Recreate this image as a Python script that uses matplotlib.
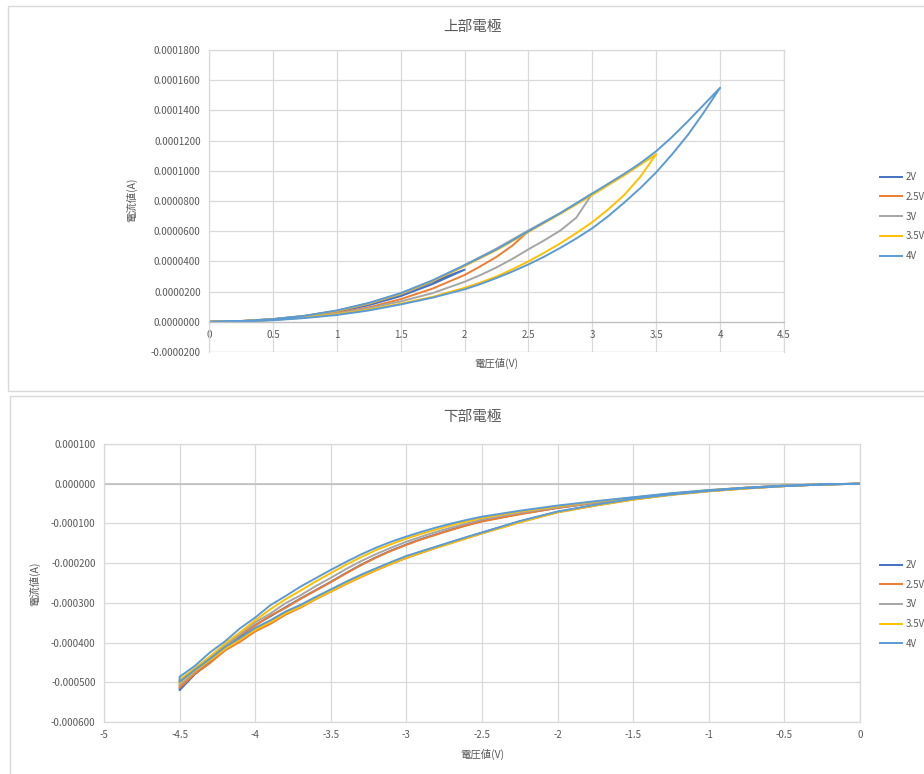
import matplotlib.pyplot as plt
from matplotlib.patches import Rectangle
from matplotlib.lines import Line2D

# ========================================
# Fonts / colours
# ========================================

plt.rcParams['font.family'] = ['Noto Sans CJK JP', 'DejaVu Sans']

TEXT_COLOR = "#595959"
GRID_COLOR = "#D9D9D9"
AXIS_COLOR = "#BFBFBF"

LABELS = ["2V", "2.5V", "3V", "3.5V", "4V"]
COLORS = ["#4472C4", "#ED7D31", "#A5A5A5", "#FFC000", "#5B9BD5"]

# ========================================
# Data: upper electrode (current in uA)
# ========================================

top_v = [0, 0.25, 0.5, 0.75, 1.0, 1.25, 1.5, 1.75, 2.0, 2.125, 2.25, 2.375, 2.5,
         2.625, 2.75, 2.875, 3.0, 3.125, 3.25, 3.375, 3.5, 3.625, 3.75, 3.875, 4.0]

top_rise_2v = [0, 0.3, 1.5, 3.5, 6.5, 11, 17, 25, 34.5]
top_fall_2v = [0, 0.5, 1.7, 3.8, 7.2, 12, 18.5, 26.5, 34.5]
top_rise_25v = [0, 0.3, 1.3, 3.0, 5.8, 9.5, 15, 22, 31, 36.8, 43, 50.5, 60]
top_fall_25v = [0, 0.5, 1.7, 3.8, 7.0, 12, 18.5, 27, 37, 42.5, 48, 54, 60]
top_rise_3v = [0, 0.3, 1.3, 3.0, 5.5, 9.0, 13.5, 19, 26.5, 31, 36, 41.7, 48,
               54, 60.5, 69, 85]
top_fall_3v = [0, 0.5, 1.7, 3.9, 7.2, 12, 18.5, 27, 37.5, 43, 48.5, 54.5, 60.5,
               66.3, 72, 78.5, 85]
top_rise_35v = [0, 0.3, 1.2, 2.8, 5.0, 8.0, 12, 16.5, 22.5, 26, 30, 34.8, 40,
                45.8, 52, 58.8, 66, 74.5, 84, 96, 111]
top_fall_35v = [0, 0.5, 1.7, 3.9, 7.3, 12.2, 18.6, 27, 37, 42.2, 47.5, 53.5, 59.5,
                65.5, 71.5, 77.8, 84, 90.5, 97, 104, 111]
top_rise_4v = [0, 0.2, 1.0, 2.5, 4.5, 7.5, 11.5, 16, 21.5, 25, 29, 33.3, 38,
               43.2, 49, 55.2, 62, 70, 79, 88.5, 99, 111, 124, 139, 155]
top_fall_4v = [0, 0.5, 1.8, 4.0, 7.5, 12.5, 19, 27.5, 37.5, 42.7, 48, 54, 60,
               66, 72, 78.5, 85, 91.5, 98, 105, 113, 122.5, 133, 144, 155]

# ========================================
# Data: lower electrode (current in uA)
# ========================================

bot_v = [0, -0.25, -0.5, -0.75, -1.0, -1.25, -1.5, -1.75, -2.0, -2.25, -2.5,
         -2.6, -2.7, -2.8, -2.9, -3.0, -3.1, -3.2, -3.3, -3.4, -3.5,
         -3.6, -3.7, -3.8, -3.9, -4.0, -4.1, -4.2, -4.3, -4.4, -4.5]

bot_upper_2v = [0, -1.5, -5, -10, -17, -26, -36, -48, -61, -76, -94,
                -104, -115, -127, -139, -153, -168, -185, -204, -225, -247,
                -268, -289, -311, -334, -356, -385, -414, -448, -479, -514]
bot_lower_2v = [0, -2, -6, -11, -18, -27, -39, -54, -71, -95, -123,
                -135, -147, -159, -171, -184, -199, -215, -232, -250, -269,
                -288, -308, -327, -349, -368, -394, -418, -450, -480, -520]
bot_upper_25v = [0, -1.5, -5, -10, -17, -26, -36, -48, -61, -77, -95,
                 -105, -116, -128, -140, -154, -169, -186, -205, -226, -248,
                 -269, -290, -313, -332, -357, -381, -413, -442, -475, -507]
bot_lower_25v = [0, -2, -6, -12, -19, -28, -40, -55, -72, -97, -125,
                 -137, -149, -161, -174, -187, -202, -218, -235, -253, -272,
                 -291, -312, -330, -353, -372, -398, -420, -452, -479, -514]
bot_upper_3v = [0, -1.5, -5, -10, -17, -25, -35, -47, -59, -73, -90,
                -100, -110, -121, -133, -146, -161, -177, -195, -215, -237,
                -258, -281, -301, -327, -349, -379, -406, -438, -467, -500]
bot_lower_3v = [0, -2, -6, -11, -18, -27, -39, -54, -71, -95, -124,
                -136, -147, -159, -171, -184, -199, -215, -231, -249, -268,
                -287, -307, -325, -347, -365, -391, -414, -444, -473, -508]
bot_upper_35v = [0, -1.5, -5, -10, -16, -25, -35, -45, -57, -70, -86,
                 -95, -104, -115, -126, -138, -152, -167, -185, -204, -225,
                 -246, -269, -291, -316, -344, -374, -403, -435, -465, -493]
bot_lower_35v = [0, -2, -6, -12, -19, -28, -40, -55, -72, -97, -125,
                 -137, -149, -161, -173, -186, -201, -217, -234, -252, -271,
                 -290, -310, -327, -349, -368, -393, -416, -445, -471, -502]
bot_upper_4v = [0, -1.5, -5, -10, -16, -24, -34, -44, -55, -68, -83,
                -91, -100, -110, -121, -133, -146, -161, -178, -197, -217,
                -238, -259, -283, -306, -337, -364, -397, -425, -459, -486]
bot_lower_4v = [0, -2, -6, -11, -18, -27, -38, -53, -70, -94, -123,
                -134, -146, -158, -170, -182, -197, -213, -229, -247, -266,
                -285, -305, -322, -344, -363, -388, -411, -441, -469, -499]

top_series = [
    (top_rise_2v, top_fall_2v),
    (top_rise_25v, top_fall_25v),
    (top_rise_3v, top_fall_3v),
    (top_rise_35v, top_fall_35v),
    (top_rise_4v, top_fall_4v),
]
bot_series = [
    (bot_lower_2v, bot_upper_2v),
    (bot_lower_25v, bot_upper_25v),
    (bot_lower_3v, bot_upper_3v),
    (bot_lower_35v, bot_upper_35v),
    (bot_lower_4v, bot_upper_4v),
]

top_yticks_ua = [-20, 0, 20, 40, 60, 80, 100, 120, 140, 160, 180]
top_xticks = [0, 0.5, 1, 1.5, 2, 2.5, 3, 3.5, 4, 4.5]
bot_yticks_ua = [-600, -500, -400, -300, -200, -100, 0, 100]
bot_xticks = [-5, -4.5, -4, -3.5, -3, -2.5, -2, -1.5, -1, -0.5, 0]


def fmt_num(v):
    return f"{v:g}"


def style_axes(ax):
    ax.grid(True, color=GRID_COLOR, lw=0.9)
    ax.set_axisbelow(True)
    for s in ax.spines.values():
        s.set_color(GRID_COLOR)
        s.set_linewidth(0.9)
    ax.tick_params(length=0, labelsize=7, labelcolor=TEXT_COLOR, pad=6)


def sweep(v_grid, out_branch, back_branch):
    # one measurement: out to the max voltage, then back to 0
    n = len(out_branch)
    xs = list(v_grid[:n]) + list(v_grid[:n])[::-1]
    ys = [i * 1e-6 for i in out_branch] + [i * 1e-6 for i in back_branch][::-1]
    return xs, ys


# ========================================
# Figure
# ========================================

fig = plt.figure(figsize=(9.24, 7.74), dpi=100)
W, H = 924, 774

# chart frames (Excel style)
fig.add_artist(Rectangle((8 / W, 1 - 391 / H), 930 / W, 385 / H, transform=fig.transFigure,
                         fill=False, edgecolor=GRID_COLOR, lw=1))
fig.add_artist(Rectangle((10 / W, 1 - 780 / H), 930 / W, 384 / H, transform=fig.transFigure,
                         fill=False, edgecolor=GRID_COLOR, lw=1))

handles = [Line2D([], [], color=c, lw=1.4) for c in COLORS]

# ---- upper electrode ----
ax1 = fig.add_axes([209 / W, 1 - 352 / H, (784 - 209) / W, (352 - 50) / H])
style_axes(ax1)
for (rise, fall), color, label in zip(top_series, COLORS, LABELS):
    xs, ys = sweep(top_v, rise, fall)
    ax1.plot(xs, ys, color=color, lw=1.4, label=label)
ax1.set_xlim(0, 4.5)
ax1.set_ylim(-20e-6, 180e-6)
ax1.set_xticks(top_xticks)
ax1.set_xticklabels([fmt_num(v) for v in top_xticks])
ax1.set_yticks([t * 1e-6 for t in top_yticks_ua])
ax1.set_yticklabels([f"{t * 1e-6:.7f}" for t in top_yticks_ua])
ax1.spines['bottom'].set_position(('data', 0))
ax1.spines['bottom'].set_color(AXIS_COLOR)
ax1.axhline(-20e-6, color=GRID_COLOR, lw=0.9, zorder=0)

fig.text(473 / W, 1 - 27 / H, "上部電極", ha='center', va='center', fontsize=10.5, color=TEXT_COLOR)
fig.text(496 / W, 1 - 363 / H, "電圧値(V)", ha='center', va='center', fontsize=7.5, color=TEXT_COLOR)
fig.text(132 / W, 1 - 200 / H, "電流値(A)", ha='center', va='center', rotation=90,
         fontsize=7.5, color=TEXT_COLOR)

fig.legend(handles, LABELS, loc='center left', bbox_to_anchor=(880 / W, 1 - 216.5 / H),
           frameon=False, fontsize=7, labelcolor=TEXT_COLOR, handlelength=2.3,
           handletextpad=0.3, labelspacing=1.0, borderpad=0, borderaxespad=0)

# ---- lower electrode ----
ax2 = fig.add_axes([104 / W, 1 - 722 / H, (860 - 104) / W, (722 - 444) / H])
style_axes(ax2)
ax2.axhline(0, color=AXIS_COLOR, lw=1.2, zorder=1)
for (lower, upper), color, label in zip(bot_series, COLORS, LABELS):
    xs, ys = sweep(bot_v, lower, upper)
    ax2.plot(xs, ys, color=color, lw=1.4, label=label)
ax2.set_xlim(-5, 0)
ax2.set_ylim(-600e-6, 100e-6)
ax2.set_xticks(bot_xticks)
ax2.set_xticklabels([fmt_num(v) for v in bot_xticks])
ax2.set_yticks([t * 1e-6 for t in bot_yticks_ua])
ax2.set_yticklabels([f"{t * 1e-6:.6f}" for t in bot_yticks_ua])

fig.text(473 / W, 1 - 417 / H, "下部電極", ha='center', va='center', fontsize=10.5, color=TEXT_COLOR)
fig.text(482 / W, 1 - 754 / H, "電圧値(V)", ha='center', va='center', fontsize=7.5, color=TEXT_COLOR)
fig.text(35 / W, 1 - 584 / H, "電流値(A)", ha='center', va='center', rotation=90,
         fontsize=7.5, color=TEXT_COLOR)

fig.legend(handles, LABELS, loc='center left', bbox_to_anchor=(880 / W, 1 - 604.4 / H),
           frameon=False, fontsize=7, labelcolor=TEXT_COLOR, handlelength=2.3,
           handletextpad=0.3, labelspacing=1.0, borderpad=0, borderaxespad=0)

fig.savefig("out.png", dpi=100)
